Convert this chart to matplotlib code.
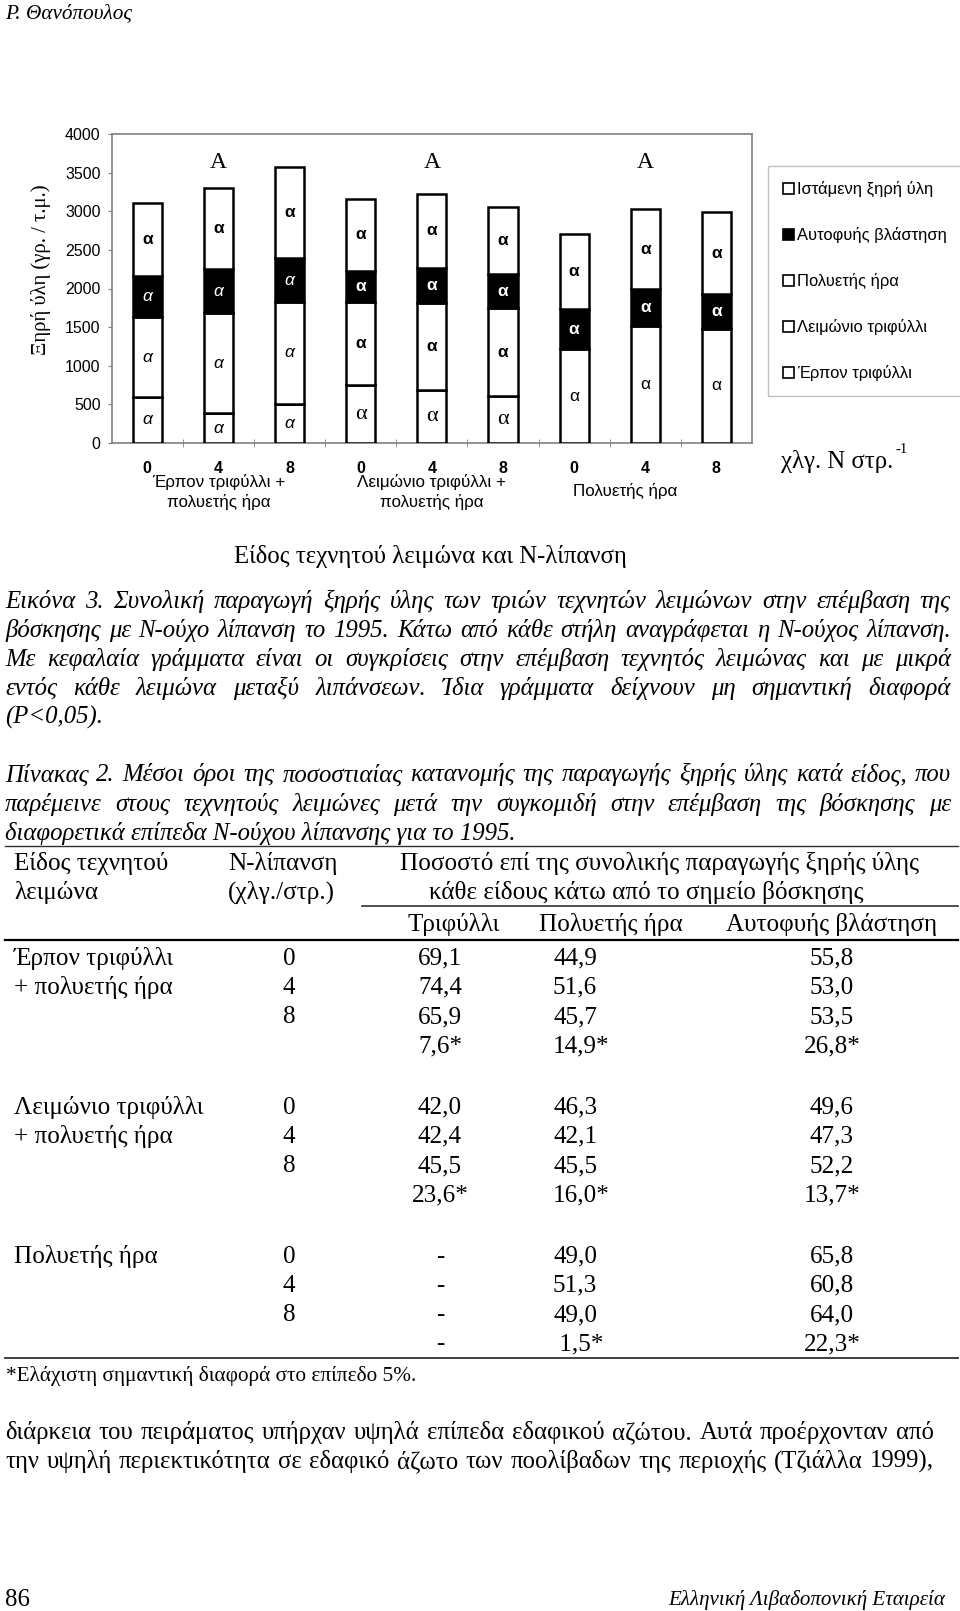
import numpy as np
import matplotlib.pyplot as plt
from matplotlib.patches import Patch

SERIF = "Liberation Serif"
SANS = "Liberation Sans"
GRAY = "#808080"

# ---- chart data: dry matter (g / m2), one value per bar, stacked bottom -> top
n_levels = ["0", "4", "8"] * 3
erpon = [589, 381, 502, 0, 0, 0, 0, 0, 0]
leimonio = [0, 0, 0, 744, 684, 606, 0, 0, 0]
ira = [1045, 1305, 1323, 1077, 1124, 1137, 1211, 1518, 1475]
autofyis = [528, 563, 567, 410, 462, 445, 523, 475, 450]
istameni = [951, 1051, 1180, 930, 952, 873, 969, 1034, 1067]
series_names = ["Έρπον τριφύλλι", "Λειμώνιο τριφύλλι", "Πολυετής ήρα",
                "Αυτοφυής βλάστηση", "Ιστάμενη ξηρή ύλη"]
# letter drawn in each segment: b bold, i italic, r regular, s serif
letter_styles = ["iii", "---sss", "iiibbbrrr", "iiibbbbbb", "bbbbbbbbb"]
group_letters = ["A", "A", "A"]
group_names = ["Έρπον τριφύλλι +\nπολυετής ήρα", "Λειμώνιο τριφύλλι +\nπολυετής ήρα", "Πολυετής ήρα"]

# ---- table data
lawn_names = [["Έρπον τριφύλλι", "+ πολυετής ήρα"], ["Λειμώνιο τριφύλλι", "+ πολυετής ήρα"], ["Πολυετής ήρα"]]
n_rows = ["0", "4", "8", ""]
pct_trifylli = [["69,1", "74,4", "65,9", "7,6*"], ["42,0", "42,4", "45,5", "23,6*"], ["-", "-", "-", "-"]]
pct_ira = [["44,9", "51,6", "45,7", "14,9*"], ["46,3", "42,1", "45,5", "16,0*"], ["49,0", "51,3", "49,0", " 1,5*"]]
pct_autofyis = [["55,8", "53,0", "53,5", "26,8*"], ["49,6", "47,3", "52,2", "13,7*"], ["65,8", "60,8", "64,0", "22,3*"]]

caption = ["Εικόνα 3. Συνολική παραγωγή ξηρής ύλης των τριών τεχνητών λειμώνων στην επέμβαση της",
           "βόσκησης με Ν-ούχο λίπανση το 1995. Κάτω από κάθε στήλη αναγράφεται η Ν-ούχος λίπανση.",
           "Με κεφαλαία γράμματα είναι οι συγκρίσεις στην επέμβαση τεχνητός λειμώνας και με μικρά",
           "εντός κάθε λειμώνα μεταξύ λιπάνσεων. Ίδια γράμματα δείχνουν μη σημαντική διαφορά",
           "(P<0,05)."]
table_title = ["Πίνακας 2. Μέσοι όροι της ποσοστιαίας κατανομής της παραγωγής ξηρής ύλης κατά είδος, που",
               "παρέμεινε  στους τεχνητούς λειμώνες μετά την συγκομιδή  στην επέμβαση της βόσκησης με",
               "διαφορετικά επίπεδα Ν-ούχου λίπανσης για το 1995."]
body = ["διάρκεια του πειράματος υπήρχαν υψηλά επίπεδα εδαφικού αζώτου. Αυτά προέρχονταν από",
        "την υψηλή περιεκτικότητα σε εδαφικό άζωτο των ποολίβαδων της περιοχής (Τζιάλλα 1999),"]

fig = plt.figure(figsize=(9.6, 16.11), dpi=100)
page = fig.add_axes([0, 0, 1, 1])
page.set_xlim(0, 960)
page.set_ylim(1611, 0)
page.axis("off")
renderer = fig.canvas.get_renderer()


def width(s, **kw):
    t = page.text(0, 0, s, **kw)
    w = t.get_window_extent(renderer).width
    t.remove()
    return w


def fit(lines, target, **kw):
    # font size (pt) at which the widest line is `target` pixels wide
    w = max(width(l, fontsize=10, **kw) for l in lines)
    return 10 * target / w


def put(x, yc, s, size, **kw):
    # yc = visual middle of the line in page pixels
    page.text(x, yc + 0.3 * size * 100 / 72, s, fontsize=size, va="baseline", **kw)


def justify(line, yc, size, x0, x1, **kw):
    words = line.split()
    ws = [width(w, fontsize=size, **kw) for w in words]
    gap = (x1 - x0 - sum(ws)) / (len(words) - 1)
    x = x0
    for w, wd in zip(words, ws):
        put(x, yc, w, size, **kw)
        x += wd + gap


# ---------------- chart ----------------
ax = fig.add_axes([111.7 / 960, 1 - 442.7 / 1611, (752 - 111.7) / 960, (442.7 - 134.3) / 1611])
x = np.arange(9)
bottom = np.zeros(9)
handles = []
for vals, name, styles in zip([erpon, leimonio, ira, autofyis, istameni], series_names, letter_styles):
    fc = "black" if name == "Αυτοφυής βλάστηση" else "white"
    ax.bar(x, vals, 0.41, bottom=bottom, color=fc, edgecolor="black", linewidth=1.8, zorder=3)
    handles.append(Patch(facecolor=fc, edgecolor="black", linewidth=1.2, label=name))
    for xi, v, b, st in zip(x, vals, bottom, styles.ljust(9, "-")):
        if v <= 0 or st == "-":
            continue
        tc = "white" if fc == "black" else "black"
        if st == "s":
            ax.text(xi, b + v / 2, "α", family=SERIF, fontsize=16, color=tc, ha="center", va="center", zorder=4)
        else:
            ax.text(xi, b + v / 2, "α", family=SANS, fontsize=12.5, color=tc, ha="center", va="center",
                    fontweight="bold" if st == "b" else "normal",
                    fontstyle="italic" if st == "i" else "normal", zorder=4)
    bottom += np.array(vals)

for gi, letter in enumerate(group_letters):
    ax.text(gi * 3 + 1, 3630, letter, family=SERIF, fontsize=17, ha="center", va="center")

ax.set_xlim(-0.5, 8.5)
ax.set_ylim(0, 4000)
ax.set_yticks(np.arange(0, 4001, 500))
ax.set_xticks(x)
ax.set_xticklabels(n_levels, family=SANS, fontweight="bold", fontsize=11.5)
ax.set_xticks(np.arange(0.5, 8, 1), minor=True)
ax.tick_params(axis="x", which="major", length=0, pad=13)
ax.tick_params(axis="x", which="minor", length=6, direction="inout", color=GRAY)
ax.tick_params(axis="y", length=3, color=GRAY, pad=5, labelsize=11.5)
for lab in ax.get_yticklabels():
    lab.set_family(SANS)
for sp in ax.spines.values():
    sp.set_color(GRAY)
    sp.set_linewidth(1.2)

gsize = fit(["Λειμώνιο τριφύλλι +"], 149, family=SANS)
for gi, (gx, gname) in enumerate(zip([1, 4, 6.72], group_names)):
    ax.text(gx, -0.16 if gi < 2 else -0.155, gname, transform=ax.get_xaxis_transform(), family=SANS,
            fontsize=gsize, ha="center", va="center", linespacing=1.25)

lsize = fit(["Αυτοφυής βλάστηση"], 150, family=SANS)
fig.legend(handles=handles[::-1], loc="upper left", bbox_to_anchor=(768 / 960, 1 - 166 / 1611),
           borderaxespad=0, prop={"family": SANS, "size": lsize}, frameon=True, fancybox=False,
           edgecolor="#b0b0b0", handlelength=0.65, handleheight=0.65, handletextpad=0.2,
           labelspacing=1.82, borderpad=0.9)

ysize = fit(["Ξηρή ύλη (γρ. / τ.μ.)"], 170, family=SERIF)
page.text(41, 270, "Ξηρή ύλη (γρ. / τ.μ.)", family=SERIF, fontsize=ysize, rotation=90,
          ha="center", va="center")
usize = fit(["χλγ. Ν στρ."], 112, family=SERIF)
put(781, 461, "χλγ. Ν στρ.", usize, family=SERIF)
put(895, 449, "-1", usize * 0.6, family=SERIF)
tsize = fit(["Είδος τεχνητού λειμώνα και Ν-λίπανση"], 393, family=SERIF)
page.text(430, 556, "Είδος τεχνητού λειμώνα και Ν-λίπανση", family=SERIF, fontsize=tsize,
          ha="center", va="center")

# ---------------- page text ----------------
hsize = fit(["Ρ. Θανόπουλος"], 127, family=SERIF, style="italic")
put(5, 12, "Ρ. Θανόπουλος", hsize, family=SERIF, style="italic")

csize = fit(caption + table_title, 925, family=SERIF, style="italic")
for i, line in enumerate(caption):
    yc = 601 + i * 28.8
    if i < 4:
        justify(line, yc, csize, 5, 951, family=SERIF, style="italic")
    else:
        put(5, yc, line, csize, family=SERIF, style="italic")
for i, line in enumerate(table_title):
    yc = 774 + i * 29.3
    if i < 2:
        justify(line, yc, csize, 5, 951, family=SERIF, style="italic")
    else:
        put(5, yc, line, csize, family=SERIF, style="italic")

# ---------------- table ----------------
ts = fit(["Ποσοστό επί της συνολικής παραγωγής ξηρής ύλης"], 520, family=SERIF)
page.plot([5, 958], [846, 846], color="#303030", lw=1.0)
page.plot([362, 958], [906, 906], color="#303030", lw=1.2)
page.plot([5, 958], [940, 940], color="black", lw=1.6)
page.plot([5, 958], [1358, 1358], color="#303030", lw=1.3)

put(14, 862, "Είδος τεχνητού", ts, family=SERIF)
put(14, 891, "λειμώνα", ts, family=SERIF)
put(228, 862, "Ν-λίπανση", ts, family=SERIF)
put(228, 891, "(χλγ./στρ.)", ts, family=SERIF)
put(659, 862, "Ποσοστό επί της συνολικής παραγωγής ξηρής ύλης", ts, family=SERIF, ha="center")
put(646, 891, "κάθε είδους κάτω από το σημείο βόσκησης", ts, family=SERIF, ha="center")
put(454, 923, "Τριφύλλι", ts, family=SERIF, ha="center")
put(611, 923, "Πολυετής ήρα", ts, family=SERIF, ha="center")
put(832, 923, "Αυτοφυής βλάστηση", ts, family=SERIF, ha="center")

for g, y0 in enumerate([957, 1106, 1255]):
    for j, nm in enumerate(lawn_names[g]):
        put(14, y0 + j * 29, nm, ts, family=SERIF)
    for r in range(4):
        yc = y0 + r * 29.2
        put(289, yc, n_rows[r], ts, family=SERIF, ha="center")
        put(440, yc, pct_trifylli[g][r], ts, family=SERIF, ha="center")
        put(553, yc, pct_ira[g][r], ts, family=SERIF, ha="left")
        put(832, yc, pct_autofyis[g][r], ts, family=SERIF, ha="center")

fsize = fit(["*Ελάχιστη σημαντική διαφορά στο επίπεδο 5%."], 409, family=SERIF)
put(6, 1375, "*Ελάχιστη σημαντική διαφορά στο επίπεδο 5%.", fsize, family=SERIF)

bsize = fit(body, 915, family=SERIF)
for i, line in enumerate(body):
    justify(line, 1432 + i * 28.6, bsize, 5, 934, family=SERIF)

put(5, 1599, "86", bsize, family=SERIF)
esize = fit(["Ελληνική Λιβαδοπονική Εταιρεία"], 277, family=SERIF, style="italic")
put(945, 1599, "Ελληνική Λιβαδοπονική Εταιρεία", esize, family=SERIF, style="italic", ha="right")

fig.savefig("out.png", dpi=100)
